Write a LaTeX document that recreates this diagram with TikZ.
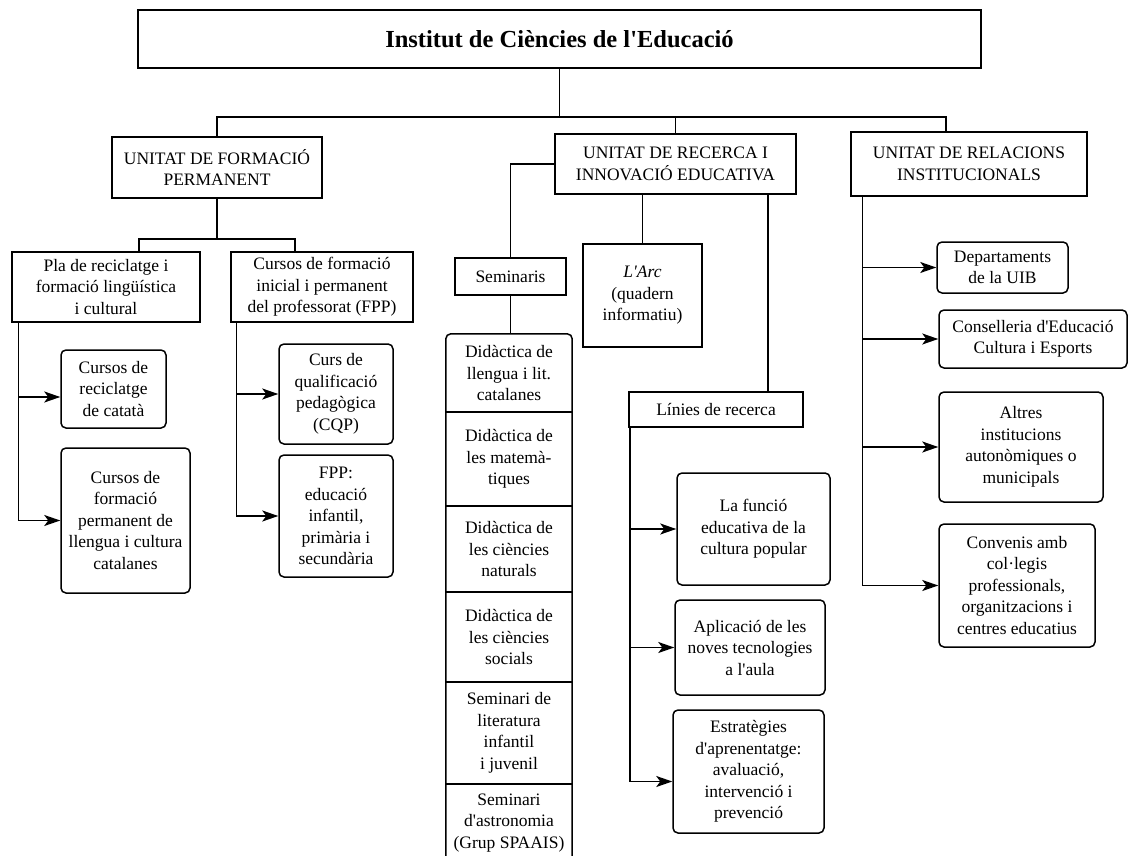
\documentclass[tikz,border=0pt]{standalone}
\usepackage{fontspec}
\setmainfont{Liberation Serif}
\usetikzlibrary{arrows.meta,calc}
\newcommand\q{\textquotesingle}
\begin{document}
\begin{tikzpicture}[x=1pt,y=-1pt,
  ln/.style={line width=1.5pt},
  box/.style={draw,line width=1.5pt,inner sep=0pt,align=center,
    font=\fontsize{17.5}{21.5}\selectfont},
  rbox/.style={box,rounded corners=5pt},
  cell/.style={inner sep=0pt,align=center,minimum width=126pt,
    font=\fontsize{17.5}{21.5}\selectfont},
  arr/.style={line width=1.5pt,-{Stealth[length=16pt,width=11pt,inset=4pt]}}]
\useasboundingbox (0,0) rectangle (1130,856);
\clip (0,0) rectangle (1130,856);
\fill[white] (0,0) rectangle (1130,856);

% top
\node[box,minimum width=843pt,minimum height=58pt,
  font=\fontsize{24.5}{28}\selectfont\bfseries] (top) at (559.5,39)
  {Institut de Ciències de l\q Educació};

% units
\node[box,minimum width=210pt,minimum height=61pt] (ufp) at (217,167.5)
  {UNITAT DE FORMACIÓ\\PERMANENT};
\node[box,minimum width=241pt,minimum height=60pt] (urec) at (675.5,164)
  {UNITAT DE RECERCA I\\INNOVACIÓ EDUCATIVA};
\node[box,minimum width=236pt,minimum height=64pt] (urel) at (969,164)
  {UNITAT DE RELACIONS\\INSTITUCIONALS};

\coordinate (bus) at (559.5,117);
\coordinate (urelT) at ([xshift=-23pt]urel.north);
\draw[ln] (top.south) -- (top.south |- bus);
\draw[ln] (ufp.north) |- (urelT |- bus) -- (urelT);
\draw[ln] (urec.north) -- (urec.north |- bus);

% formacio permanent
\node[box,minimum width=188pt,minimum height=70pt] (pla) at (106,287)
  {Pla de reciclatge i\\formació lingüística\\i cultural};
\node[box,minimum width=182pt,minimum height=70pt] (cfi) at (322,287)
  {Cursos de formació\\inicial i permanent\\del professorat (FPP)};
\coordinate (ufpbus) at (217,239);
\coordinate (plaT) at ([xshift=33pt]pla.north);
\coordinate (cfiT) at ([xshift=-27pt]cfi.north);
\draw[ln] (ufp.south) -- (ufpbus);
\draw[ln] (plaT) |- (ufpbus) -| (cfiT);

\node[rbox,minimum width=105pt,minimum height=78pt] (crec) at (113.5,389)
  {Cursos de\\reciclatge\\de catatà};
\node[rbox,minimum width=129pt,minimum height=145pt] (cfp) at (125.5,520.5)
  {Cursos de\\formació\\permanent de\\llengua i cultura\\catalanes};
\node[rbox,minimum width=114pt,minimum height=100pt] (cqp) at (336,394)
  {Curs de\\qualificació\\pedagògica\\(CQP)};
\node[rbox,minimum width=114pt,minimum height=122pt] (fpp) at (336,516)
  {FPP:\\educació\\infantil,\\primària i\\secundària};

\coordinate (plaL) at ([xshift=7pt]pla.south west);
\coordinate (crecA) at ($(crec.west)+(0,8)$);
\draw[arr] (plaL) |- (cfp.west);
\draw[arr] (plaL |- crecA) -- (crecA);
\coordinate (cfiL) at ([xshift=6pt]cfi.south west);
\draw[arr] (cfiL) |- (fpp.west);
\draw[arr] (cfiL |- cqp.west) -- (cqp.west);

% recerca
\node[box,minimum width=111pt,minimum height=37pt] (sem) at (510.5,276.5)
  {Seminaris};
\node[box,minimum width=119pt,minimum height=103pt] (larc) at (642.5,295.5)
  {\textit{L\q Arc}\\(quadern\\informatiu)};
\node[box,minimum width=174pt,minimum height=35pt] (lin) at (716,409.5)
  {Línies de recerca};
\draw[ln] (urec.west) -| (sem.north);
\draw[ln] (larc.north) -- (larc.north |- urec.south);
\coordinate (linT) at ([xshift=52pt]lin.north);
\draw[ln] (linT) -- (linT |- urec.south);

% seminar list
\node[cell,minimum height=78pt] (c1) at (509,373)
  {Didàctica de\\llengua i lit.\\catalanes};
\node[cell,minimum height=94pt] (c2) at (509,459)
  {Didàctica de\\les matemà-\\tiques};
\node[cell,minimum height=86pt] (c3) at (509,549)
  {Didàctica de\\les ciències\\naturals};
\node[cell,minimum height=90pt] (c4) at (509,637)
  {Didàctica de\\les ciències\\socials};
\node[cell,minimum height=102pt] (c5) at (509,733)
  {Seminari de\\literatura\\infantil\\i juvenil};
\node[cell,minimum height=80pt] (c6) at (509,823)
  {Seminari\\d\q astronomia\\(Grup SPAAIS)};
\draw[ln,rounded corners=5pt] (c6.south west) -- (c1.north west)
  -- (c1.north east) -- (c6.south east);
\foreach \c in {c1,c2,c3,c4,c5}
  \draw[ln] (\c.south west) -- (\c.south east);
\draw[ln] (sem.south) -- (sem.south |- c1.north);

% linies
\node[rbox,minimum width=153pt,minimum height=112pt] (fun) at (753.5,529)
  {La funció\\educativa de la\\cultura popular};
\node[rbox,minimum width=150pt,minimum height=95pt] (apl) at (750,647.5)
  {Aplicació de les\\noves tecnologies\\a l\q aula};
\node[rbox,minimum width=151pt,minimum height=123pt] (est) at (748.5,771.5)
  {Estratègies\\d\q aprenentatge:\\avaluació,\\intervenció i\\prevenció};
\coordinate (linL) at ([xshift=1.5pt]lin.south west);
\coordinate (estA) at ($(est.west)+(0,10)$);
\draw[arr] (linL) |- (estA);
\draw[arr] (linL |- fun.west) -- (fun.west);
\draw[arr] (linL |- apl.west) -- (apl.west);

% relacions
\node[rbox,minimum width=131pt,minimum height=51pt] (dep) at (1002.5,267.5)
  {Departaments\\de la UIB};
\node[rbox,minimum width=188pt,minimum height=58pt] (con) at (1033,339)
  {Conselleria d\q Educació\\Cultura i Esports};
\node[rbox,minimum width=164pt,minimum height=110pt] (alt) at (1021,447)
  {Altres\\institucions\\autonòmiques o\\municipals};
\node[rbox,minimum width=156pt,minimum height=123pt] (cnv) at (1017,585.5)
  {Convenis amb\\col·legis\\professionals,\\organitzacions i\\centres educatius};
\coordinate (urelL) at ([xshift=12pt]urel.south west);
\draw[arr] (urelL) |- (cnv.west);
\draw[arr] (urelL |- dep.west) -- (dep.west);
\draw[arr] (urelL |- con.west) -- (con.west);
\draw[arr] (urelL |- alt.west) -- (alt.west);
\end{tikzpicture}
\end{document}
